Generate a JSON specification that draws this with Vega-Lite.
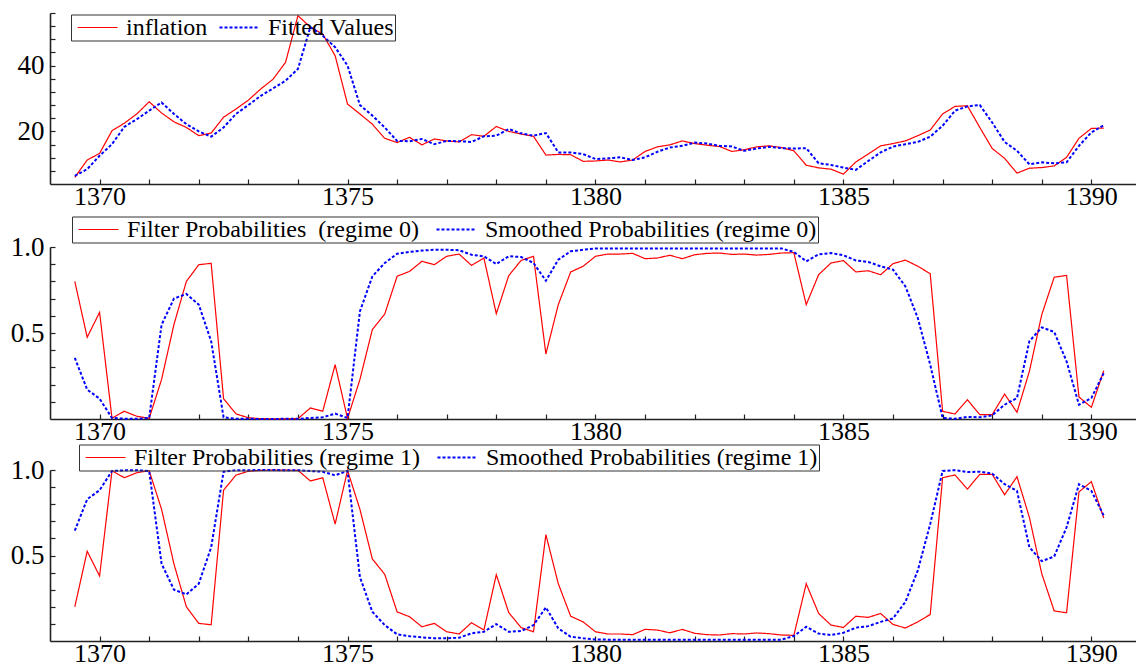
{
"$schema": "https://vega.github.io/schema/vega-lite/v6.json",
"autosize": "none",
"padding": {"left": 50, "top": 13, "right": 1086, "bottom": 655},
"background": "white",
"config": {
  "view": {"stroke": null},
  "font": "Liberation Serif, Times New Roman, DejaVu Serif, serif",
  "axis": {"domainColor": "#222", "domainWidth": 1.6, "tickColor": "#222", "tickWidth": 1.2, "tickSize": -5, "labelFont": "Liberation Serif, Times New Roman, DejaVu Serif, serif", "labelFontSize": 27, "labelColor": "#000", "grid": false, "title": null, "labelOverlap": false, "labelBound": false, "labelFlush": false},
  "axisX": {"labelPadding": 4, "labelDx": 9, "labelFontSize": 26},
  "axisY": {"labelPadding": 11},
  "legend": {"orient": "none", "direction": "horizontal", "title": null, "strokeColor": "#333", "padding": 1, "symbolType": "M-2,0H2", "symbolSize": 400, "symbolStrokeWidth": 2, "labelFont": "Liberation Serif, Times New Roman, DejaVu Serif, serif", "labelFontSize": 24, "labelColor": "#000", "labelLimit": 500, "symbolOffset": 13.5, "labelOffset": 16.5, "columnPadding": 12}
},
"datasets": {
"p1": [
{"t":1369.5,"s":"inflation","v":6.0},{"t":1369.75,"s":"inflation","v":11.3},{"t":1370,"s":"inflation","v":13.3},{"t":1370.25,"s":"inflation","v":20.2},{"t":1370.5,"s":"inflation","v":22.5},{"t":1370.75,"s":"inflation","v":25.3},{"t":1371,"s":"inflation","v":29.0},{"t":1371.25,"s":"inflation","v":25.6},{"t":1371.5,"s":"inflation","v":22.9},{"t":1371.75,"s":"inflation","v":21.2},{"t":1372,"s":"inflation","v":18.7},{"t":1372.25,"s":"inflation","v":19.5},{"t":1372.5,"s":"inflation","v":24.3},{"t":1372.75,"s":"inflation","v":26.8},{"t":1373,"s":"inflation","v":29.5},{"t":1373.25,"s":"inflation","v":32.9},{"t":1373.5,"s":"inflation","v":35.9},{"t":1373.75,"s":"inflation","v":41.0},{"t":1374,"s":"inflation","v":55.2},{"t":1374.25,"s":"inflation","v":51.7},{"t":1374.5,"s":"inflation","v":49.6},{"t":1374.75,"s":"inflation","v":43.0},{"t":1375,"s":"inflation","v":28.3},{"t":1375.25,"s":"inflation","v":25.3},{"t":1375.5,"s":"inflation","v":22.2},{"t":1375.75,"s":"inflation","v":17.9},{"t":1376,"s":"inflation","v":16.6},{"t":1376.25,"s":"inflation","v":18.2},{"t":1376.5,"s":"inflation","v":15.9},{"t":1376.75,"s":"inflation","v":17.7},{"t":1377,"s":"inflation","v":17.1},{"t":1377.25,"s":"inflation","v":16.8},{"t":1377.5,"s":"inflation","v":19.0},{"t":1377.75,"s":"inflation","v":18.5},{"t":1378,"s":"inflation","v":21.5},{"t":1378.25,"s":"inflation","v":20.0},{"t":1378.5,"s":"inflation","v":19.2},{"t":1378.75,"s":"inflation","v":18.5},{"t":1379,"s":"inflation","v":12.8},{"t":1379.25,"s":"inflation","v":13.0},{"t":1379.5,"s":"inflation","v":12.9},{"t":1379.75,"s":"inflation","v":10.9},{"t":1380,"s":"inflation","v":11.0},{"t":1380.25,"s":"inflation","v":11.3},{"t":1380.5,"s":"inflation","v":10.7},{"t":1380.75,"s":"inflation","v":11.3},{"t":1381,"s":"inflation","v":13.9},{"t":1381.25,"s":"inflation","v":15.3},{"t":1381.5,"s":"inflation","v":15.9},{"t":1381.75,"s":"inflation","v":17.1},{"t":1382,"s":"inflation","v":16.3},{"t":1382.25,"s":"inflation","v":15.8},{"t":1382.5,"s":"inflation","v":15.4},{"t":1382.75,"s":"inflation","v":13.9},{"t":1383,"s":"inflation","v":14.4},{"t":1383.25,"s":"inflation","v":15.3},{"t":1383.5,"s":"inflation","v":15.6},{"t":1383.75,"s":"inflation","v":15.1},{"t":1384,"s":"inflation","v":14.1},{"t":1384.25,"s":"inflation","v":9.7},{"t":1384.5,"s":"inflation","v":8.9},{"t":1384.75,"s":"inflation","v":8.5},{"t":1385,"s":"inflation","v":7.0},{"t":1385.25,"s":"inflation","v":10.7},{"t":1385.5,"s":"inflation","v":13.1},{"t":1385.75,"s":"inflation","v":15.6},{"t":1386,"s":"inflation","v":16.3},{"t":1386.25,"s":"inflation","v":17.1},{"t":1386.5,"s":"inflation","v":18.7},{"t":1386.75,"s":"inflation","v":20.4},{"t":1387,"s":"inflation","v":25.3},{"t":1387.25,"s":"inflation","v":27.6},{"t":1387.5,"s":"inflation","v":27.8},{"t":1387.75,"s":"inflation","v":21.2},{"t":1388,"s":"inflation","v":14.8},{"t":1388.25,"s":"inflation","v":11.8},{"t":1388.5,"s":"inflation","v":7.3},{"t":1388.75,"s":"inflation","v":8.8},{"t":1389,"s":"inflation","v":9.0},{"t":1389.25,"s":"inflation","v":9.5},{"t":1389.5,"s":"inflation","v":12.1},{"t":1389.75,"s":"inflation","v":17.9},{"t":1390,"s":"inflation","v":20.9},{"t":1390.25,"s":"inflation","v":21.0},
{"t":1369.5,"s":"Fitted Values","v":6.5},{"t":1369.75,"s":"Fitted Values","v":8.5},{"t":1370,"s":"Fitted Values","v":12.6},{"t":1370.25,"s":"Fitted Values","v":16.1},{"t":1370.5,"s":"Fitted Values","v":21.4},{"t":1370.75,"s":"Fitted Values","v":23.7},{"t":1371,"s":"Fitted Values","v":26.3},{"t":1371.25,"s":"Fitted Values","v":28.8},{"t":1371.5,"s":"Fitted Values","v":25.3},{"t":1371.75,"s":"Fitted Values","v":22.2},{"t":1372,"s":"Fitted Values","v":20.0},{"t":1372.25,"s":"Fitted Values","v":18.4},{"t":1372.5,"s":"Fitted Values","v":21.2},{"t":1372.75,"s":"Fitted Values","v":25.3},{"t":1373,"s":"Fitted Values","v":28.0},{"t":1373.25,"s":"Fitted Values","v":30.8},{"t":1373.5,"s":"Fitted Values","v":33.1},{"t":1373.75,"s":"Fitted Values","v":35.4},{"t":1374,"s":"Fitted Values","v":39.0},{"t":1374.25,"s":"Fitted Values","v":51.7},{"t":1374.5,"s":"Fitted Values","v":49.1},{"t":1374.75,"s":"Fitted Values","v":45.6},{"t":1375,"s":"Fitted Values","v":40.0},{"t":1375.25,"s":"Fitted Values","v":28.0},{"t":1375.5,"s":"Fitted Values","v":24.8},{"t":1375.75,"s":"Fitted Values","v":21.2},{"t":1376,"s":"Fitted Values","v":17.1},{"t":1376.25,"s":"Fitted Values","v":17.0},{"t":1376.5,"s":"Fitted Values","v":17.7},{"t":1376.75,"s":"Fitted Values","v":16.1},{"t":1377,"s":"Fitted Values","v":17.1},{"t":1377.25,"s":"Fitted Values","v":17.0},{"t":1377.5,"s":"Fitted Values","v":16.8},{"t":1377.75,"s":"Fitted Values","v":18.5},{"t":1378,"s":"Fitted Values","v":18.7},{"t":1378.25,"s":"Fitted Values","v":20.7},{"t":1378.5,"s":"Fitted Values","v":19.4},{"t":1378.75,"s":"Fitted Values","v":18.7},{"t":1379,"s":"Fitted Values","v":19.5},{"t":1379.25,"s":"Fitted Values","v":13.6},{"t":1379.5,"s":"Fitted Values","v":13.6},{"t":1379.75,"s":"Fitted Values","v":13.1},{"t":1380,"s":"Fitted Values","v":11.6},{"t":1380.25,"s":"Fitted Values","v":11.8},{"t":1380.5,"s":"Fitted Values","v":12.1},{"t":1380.75,"s":"Fitted Values","v":11.3},{"t":1381,"s":"Fitted Values","v":12.1},{"t":1381.25,"s":"Fitted Values","v":13.8},{"t":1381.5,"s":"Fitted Values","v":15.1},{"t":1381.75,"s":"Fitted Values","v":15.6},{"t":1382,"s":"Fitted Values","v":16.6},{"t":1382.25,"s":"Fitted Values","v":16.3},{"t":1382.5,"s":"Fitted Values","v":15.6},{"t":1382.75,"s":"Fitted Values","v":15.4},{"t":1383,"s":"Fitted Values","v":14.1},{"t":1383.25,"s":"Fitted Values","v":14.8},{"t":1383.5,"s":"Fitted Values","v":15.3},{"t":1383.75,"s":"Fitted Values","v":14.9},{"t":1384,"s":"Fitted Values","v":14.8},{"t":1384.25,"s":"Fitted Values","v":14.9},{"t":1384.5,"s":"Fitted Values","v":10.3},{"t":1384.75,"s":"Fitted Values","v":9.8},{"t":1385,"s":"Fitted Values","v":9.0},{"t":1385.25,"s":"Fitted Values","v":8.3},{"t":1385.5,"s":"Fitted Values","v":11.0},{"t":1385.75,"s":"Fitted Values","v":13.6},{"t":1386,"s":"Fitted Values","v":15.4},{"t":1386.25,"s":"Fitted Values","v":16.1},{"t":1386.5,"s":"Fitted Values","v":16.8},{"t":1386.75,"s":"Fitted Values","v":18.4},{"t":1387,"s":"Fitted Values","v":21.7},{"t":1387.25,"s":"Fitted Values","v":26.3},{"t":1387.5,"s":"Fitted Values","v":27.6},{"t":1387.75,"s":"Fitted Values","v":28.0},{"t":1388,"s":"Fitted Values","v":22.7},{"t":1388.25,"s":"Fitted Values","v":16.8},{"t":1388.5,"s":"Fitted Values","v":14.1},{"t":1388.75,"s":"Fitted Values","v":10.0},{"t":1389,"s":"Fitted Values","v":10.6},{"t":1389.25,"s":"Fitted Values","v":10.3},{"t":1389.5,"s":"Fitted Values","v":10.6},{"t":1389.75,"s":"Fitted Values","v":15.6},{"t":1390,"s":"Fitted Values","v":19.7},{"t":1390.25,"s":"Fitted Values","v":21.9}
],
"p2": [
{"t":1369.5,"s":"F0","v":0.80},{"t":1369.75,"s":"F0","v":0.475},{"t":1370,"s":"F0","v":0.62},{"t":1370.25,"s":"F0","v":0.005},{"t":1370.5,"s":"F0","v":0.045},{"t":1370.75,"s":"F0","v":0.016},{"t":1371,"s":"F0","v":0.004},{"t":1371.25,"s":"F0","v":0.23},{"t":1371.5,"s":"F0","v":0.55},{"t":1371.75,"s":"F0","v":0.80},{"t":1372,"s":"F0","v":0.897},{"t":1372.25,"s":"F0","v":0.905},{"t":1372.5,"s":"F0","v":0.118},{"t":1372.75,"s":"F0","v":0.03},{"t":1373,"s":"F0","v":0.007},{"t":1373.25,"s":"F0","v":0.002},{"t":1373.5,"s":"F0","v":0.001},{"t":1373.75,"s":"F0","v":0.001},{"t":1374,"s":"F0","v":0.002},{"t":1374.25,"s":"F0","v":0.064},{"t":1374.5,"s":"F0","v":0.045},{"t":1374.75,"s":"F0","v":0.316},{"t":1375,"s":"F0","v":0.003},{"t":1375.25,"s":"F0","v":0.23},{"t":1375.5,"s":"F0","v":0.52},{"t":1375.75,"s":"F0","v":0.61},{"t":1376,"s":"F0","v":0.83},{"t":1376.25,"s":"F0","v":0.858},{"t":1376.5,"s":"F0","v":0.917},{"t":1376.75,"s":"F0","v":0.897},{"t":1377,"s":"F0","v":0.946},{"t":1377.25,"s":"F0","v":0.959},{"t":1377.5,"s":"F0","v":0.893},{"t":1377.75,"s":"F0","v":0.936},{"t":1378,"s":"F0","v":0.612},{"t":1378.25,"s":"F0","v":0.833},{"t":1378.5,"s":"F0","v":0.922},{"t":1378.75,"s":"F0","v":0.946},{"t":1379,"s":"F0","v":0.378},{"t":1379.25,"s":"F0","v":0.665},{"t":1379.5,"s":"F0","v":0.855},{"t":1379.75,"s":"F0","v":0.888},{"t":1380,"s":"F0","v":0.946},{"t":1380.25,"s":"F0","v":0.959},{"t":1380.5,"s":"F0","v":0.959},{"t":1380.75,"s":"F0","v":0.963},{"t":1381,"s":"F0","v":0.932},{"t":1381.25,"s":"F0","v":0.936},{"t":1381.5,"s":"F0","v":0.952},{"t":1381.75,"s":"F0","v":0.932},{"t":1382,"s":"F0","v":0.955},{"t":1382.25,"s":"F0","v":0.963},{"t":1382.5,"s":"F0","v":0.965},{"t":1382.75,"s":"F0","v":0.957},{"t":1383,"s":"F0","v":0.959},{"t":1383.25,"s":"F0","v":0.953},{"t":1383.5,"s":"F0","v":0.957},{"t":1383.75,"s":"F0","v":0.965},{"t":1384,"s":"F0","v":0.967},{"t":1384.25,"s":"F0","v":0.665},{"t":1384.5,"s":"F0","v":0.839},{"t":1384.75,"s":"F0","v":0.907},{"t":1385,"s":"F0","v":0.921},{"t":1385.25,"s":"F0","v":0.855},{"t":1385.5,"s":"F0","v":0.862},{"t":1385.75,"s":"F0","v":0.839},{"t":1386,"s":"F0","v":0.903},{"t":1386.25,"s":"F0","v":0.924},{"t":1386.5,"s":"F0","v":0.888},{"t":1386.75,"s":"F0","v":0.845},{"t":1387,"s":"F0","v":0.045},{"t":1387.25,"s":"F0","v":0.029},{"t":1387.5,"s":"F0","v":0.112},{"t":1387.75,"s":"F0","v":0.025},{"t":1388,"s":"F0","v":0.025},{"t":1388.25,"s":"F0","v":0.145},{"t":1388.5,"s":"F0","v":0.039},{"t":1388.75,"s":"F0","v":0.277},{"t":1389,"s":"F0","v":0.607},{"t":1389.25,"s":"F0","v":0.824},{"t":1389.5,"s":"F0","v":0.835},{"t":1389.75,"s":"F0","v":0.128},{"t":1390,"s":"F0","v":0.068},{"t":1390.25,"s":"F0","v":0.281},
{"t":1369.5,"s":"S0","v":0.355},{"t":1369.75,"s":"S0","v":0.171},{"t":1370,"s":"S0","v":0.118},{"t":1370.25,"s":"S0","v":0.006},{"t":1370.5,"s":"S0","v":0.002},{"t":1370.75,"s":"S0","v":0.001},{"t":1371,"s":"S0","v":0.006},{"t":1371.25,"s":"S0","v":0.548},{"t":1371.5,"s":"S0","v":0.70},{"t":1371.75,"s":"S0","v":0.727},{"t":1372,"s":"S0","v":0.665},{"t":1372.25,"s":"S0","v":0.452},{"t":1372.5,"s":"S0","v":0.01},{"t":1372.75,"s":"S0","v":0.001},{"t":1373,"s":"S0","v":0.001},{"t":1373.25,"s":"S0","v":0.0005},{"t":1373.5,"s":"S0","v":0.0005},{"t":1373.75,"s":"S0","v":0.001},{"t":1374,"s":"S0","v":0.001},{"t":1374.25,"s":"S0","v":0.006},{"t":1374.5,"s":"S0","v":0.01},{"t":1374.75,"s":"S0","v":0.031},{"t":1375,"s":"S0","v":0.006},{"t":1375.25,"s":"S0","v":0.626},{"t":1375.5,"s":"S0","v":0.829},{"t":1375.75,"s":"S0","v":0.907},{"t":1376,"s":"S0","v":0.961},{"t":1376.25,"s":"S0","v":0.972},{"t":1376.5,"s":"S0","v":0.979},{"t":1376.75,"s":"S0","v":0.984},{"t":1377,"s":"S0","v":0.984},{"t":1377.25,"s":"S0","v":0.981},{"t":1377.5,"s":"S0","v":0.955},{"t":1377.75,"s":"S0","v":0.946},{"t":1378,"s":"S0","v":0.901},{"t":1378.25,"s":"S0","v":0.946},{"t":1378.5,"s":"S0","v":0.942},{"t":1378.75,"s":"S0","v":0.907},{"t":1379,"s":"S0","v":0.804},{"t":1379.25,"s":"S0","v":0.926},{"t":1379.5,"s":"S0","v":0.975},{"t":1379.75,"s":"S0","v":0.984},{"t":1380,"s":"S0","v":0.991},{"t":1380.25,"s":"S0","v":0.992},{"t":1380.5,"s":"S0","v":0.992},{"t":1380.75,"s":"S0","v":0.992},{"t":1381,"s":"S0","v":0.992},{"t":1381.25,"s":"S0","v":0.992},{"t":1381.5,"s":"S0","v":0.992},{"t":1381.75,"s":"S0","v":0.992},{"t":1382,"s":"S0","v":0.992},{"t":1382.25,"s":"S0","v":0.992},{"t":1382.5,"s":"S0","v":0.992},{"t":1382.75,"s":"S0","v":0.992},{"t":1383,"s":"S0","v":0.992},{"t":1383.25,"s":"S0","v":0.992},{"t":1383.5,"s":"S0","v":0.992},{"t":1383.75,"s":"S0","v":0.992},{"t":1384,"s":"S0","v":0.971},{"t":1384.25,"s":"S0","v":0.917},{"t":1384.5,"s":"S0","v":0.957},{"t":1384.75,"s":"S0","v":0.965},{"t":1385,"s":"S0","v":0.952},{"t":1385.25,"s":"S0","v":0.922},{"t":1385.5,"s":"S0","v":0.913},{"t":1385.75,"s":"S0","v":0.888},{"t":1386,"s":"S0","v":0.868},{"t":1386.25,"s":"S0","v":0.771},{"t":1386.5,"s":"S0","v":0.587},{"t":1386.75,"s":"S0","v":0.316},{"t":1387,"s":"S0","v":0.006},{"t":1387.25,"s":"S0","v":0.001},{"t":1387.5,"s":"S0","v":0.012},{"t":1387.75,"s":"S0","v":0.01},{"t":1388,"s":"S0","v":0.021},{"t":1388.25,"s":"S0","v":0.083},{"t":1388.5,"s":"S0","v":0.122},{"t":1388.75,"s":"S0","v":0.452},{"t":1389,"s":"S0","v":0.533},{"t":1389.25,"s":"S0","v":0.506},{"t":1389.5,"s":"S0","v":0.335},{"t":1389.75,"s":"S0","v":0.083},{"t":1390,"s":"S0","v":0.122},{"t":1390.25,"s":"S0","v":0.267}
],
"p3": [
{"t":1369.5,"s":"F1","v":0.20},{"t":1369.75,"s":"F1","v":0.525},{"t":1370,"s":"F1","v":0.38},{"t":1370.25,"s":"F1","v":0.995},{"t":1370.5,"s":"F1","v":0.955},{"t":1370.75,"s":"F1","v":0.984},{"t":1371,"s":"F1","v":0.996},{"t":1371.25,"s":"F1","v":0.77},{"t":1371.5,"s":"F1","v":0.45},{"t":1371.75,"s":"F1","v":0.20},{"t":1372,"s":"F1","v":0.103},{"t":1372.25,"s":"F1","v":0.095},{"t":1372.5,"s":"F1","v":0.882},{"t":1372.75,"s":"F1","v":0.97},{"t":1373,"s":"F1","v":0.993},{"t":1373.25,"s":"F1","v":0.998},{"t":1373.5,"s":"F1","v":0.999},{"t":1373.75,"s":"F1","v":0.999},{"t":1374,"s":"F1","v":0.998},{"t":1374.25,"s":"F1","v":0.936},{"t":1374.5,"s":"F1","v":0.955},{"t":1374.75,"s":"F1","v":0.684},{"t":1375,"s":"F1","v":0.997},{"t":1375.25,"s":"F1","v":0.77},{"t":1375.5,"s":"F1","v":0.48},{"t":1375.75,"s":"F1","v":0.39},{"t":1376,"s":"F1","v":0.17},{"t":1376.25,"s":"F1","v":0.142},{"t":1376.5,"s":"F1","v":0.083},{"t":1376.75,"s":"F1","v":0.103},{"t":1377,"s":"F1","v":0.054},{"t":1377.25,"s":"F1","v":0.041},{"t":1377.5,"s":"F1","v":0.107},{"t":1377.75,"s":"F1","v":0.064},{"t":1378,"s":"F1","v":0.388},{"t":1378.25,"s":"F1","v":0.167},{"t":1378.5,"s":"F1","v":0.078},{"t":1378.75,"s":"F1","v":0.054},{"t":1379,"s":"F1","v":0.622},{"t":1379.25,"s":"F1","v":0.335},{"t":1379.5,"s":"F1","v":0.145},{"t":1379.75,"s":"F1","v":0.112},{"t":1380,"s":"F1","v":0.054},{"t":1380.25,"s":"F1","v":0.041},{"t":1380.5,"s":"F1","v":0.041},{"t":1380.75,"s":"F1","v":0.037},{"t":1381,"s":"F1","v":0.068},{"t":1381.25,"s":"F1","v":0.064},{"t":1381.5,"s":"F1","v":0.048},{"t":1381.75,"s":"F1","v":0.068},{"t":1382,"s":"F1","v":0.045},{"t":1382.25,"s":"F1","v":0.037},{"t":1382.5,"s":"F1","v":0.035},{"t":1382.75,"s":"F1","v":0.043},{"t":1383,"s":"F1","v":0.041},{"t":1383.25,"s":"F1","v":0.047},{"t":1383.5,"s":"F1","v":0.043},{"t":1383.75,"s":"F1","v":0.035},{"t":1384,"s":"F1","v":0.033},{"t":1384.25,"s":"F1","v":0.335},{"t":1384.5,"s":"F1","v":0.161},{"t":1384.75,"s":"F1","v":0.093},{"t":1385,"s":"F1","v":0.079},{"t":1385.25,"s":"F1","v":0.145},{"t":1385.5,"s":"F1","v":0.138},{"t":1385.75,"s":"F1","v":0.161},{"t":1386,"s":"F1","v":0.097},{"t":1386.25,"s":"F1","v":0.076},{"t":1386.5,"s":"F1","v":0.112},{"t":1386.75,"s":"F1","v":0.155},{"t":1387,"s":"F1","v":0.955},{"t":1387.25,"s":"F1","v":0.971},{"t":1387.5,"s":"F1","v":0.888},{"t":1387.75,"s":"F1","v":0.975},{"t":1388,"s":"F1","v":0.975},{"t":1388.25,"s":"F1","v":0.855},{"t":1388.5,"s":"F1","v":0.961},{"t":1388.75,"s":"F1","v":0.723},{"t":1389,"s":"F1","v":0.393},{"t":1389.25,"s":"F1","v":0.176},{"t":1389.5,"s":"F1","v":0.165},{"t":1389.75,"s":"F1","v":0.872},{"t":1390,"s":"F1","v":0.932},{"t":1390.25,"s":"F1","v":0.719},
{"t":1369.5,"s":"S1","v":0.645},{"t":1369.75,"s":"S1","v":0.829},{"t":1370,"s":"S1","v":0.882},{"t":1370.25,"s":"S1","v":0.994},{"t":1370.5,"s":"S1","v":0.998},{"t":1370.75,"s":"S1","v":0.999},{"t":1371,"s":"S1","v":0.994},{"t":1371.25,"s":"S1","v":0.452},{"t":1371.5,"s":"S1","v":0.30},{"t":1371.75,"s":"S1","v":0.273},{"t":1372,"s":"S1","v":0.335},{"t":1372.25,"s":"S1","v":0.548},{"t":1372.5,"s":"S1","v":0.99},{"t":1372.75,"s":"S1","v":0.999},{"t":1373,"s":"S1","v":0.999},{"t":1373.25,"s":"S1","v":0.9995},{"t":1373.5,"s":"S1","v":0.9995},{"t":1373.75,"s":"S1","v":0.999},{"t":1374,"s":"S1","v":0.999},{"t":1374.25,"s":"S1","v":0.994},{"t":1374.5,"s":"S1","v":0.99},{"t":1374.75,"s":"S1","v":0.969},{"t":1375,"s":"S1","v":0.994},{"t":1375.25,"s":"S1","v":0.374},{"t":1375.5,"s":"S1","v":0.171},{"t":1375.75,"s":"S1","v":0.093},{"t":1376,"s":"S1","v":0.039},{"t":1376.25,"s":"S1","v":0.028},{"t":1376.5,"s":"S1","v":0.021},{"t":1376.75,"s":"S1","v":0.016},{"t":1377,"s":"S1","v":0.016},{"t":1377.25,"s":"S1","v":0.019},{"t":1377.5,"s":"S1","v":0.045},{"t":1377.75,"s":"S1","v":0.054},{"t":1378,"s":"S1","v":0.099},{"t":1378.25,"s":"S1","v":0.054},{"t":1378.5,"s":"S1","v":0.058},{"t":1378.75,"s":"S1","v":0.093},{"t":1379,"s":"S1","v":0.196},{"t":1379.25,"s":"S1","v":0.074},{"t":1379.5,"s":"S1","v":0.025},{"t":1379.75,"s":"S1","v":0.016},{"t":1380,"s":"S1","v":0.009},{"t":1380.25,"s":"S1","v":0.008},{"t":1380.5,"s":"S1","v":0.008},{"t":1380.75,"s":"S1","v":0.008},{"t":1381,"s":"S1","v":0.008},{"t":1381.25,"s":"S1","v":0.008},{"t":1381.5,"s":"S1","v":0.008},{"t":1381.75,"s":"S1","v":0.008},{"t":1382,"s":"S1","v":0.008},{"t":1382.25,"s":"S1","v":0.008},{"t":1382.5,"s":"S1","v":0.008},{"t":1382.75,"s":"S1","v":0.008},{"t":1383,"s":"S1","v":0.008},{"t":1383.25,"s":"S1","v":0.008},{"t":1383.5,"s":"S1","v":0.008},{"t":1383.75,"s":"S1","v":0.008},{"t":1384,"s":"S1","v":0.029},{"t":1384.25,"s":"S1","v":0.083},{"t":1384.5,"s":"S1","v":0.043},{"t":1384.75,"s":"S1","v":0.035},{"t":1385,"s":"S1","v":0.048},{"t":1385.25,"s":"S1","v":0.078},{"t":1385.5,"s":"S1","v":0.087},{"t":1385.75,"s":"S1","v":0.112},{"t":1386,"s":"S1","v":0.132},{"t":1386.25,"s":"S1","v":0.229},{"t":1386.5,"s":"S1","v":0.413},{"t":1386.75,"s":"S1","v":0.684},{"t":1387,"s":"S1","v":0.994},{"t":1387.25,"s":"S1","v":0.999},{"t":1387.5,"s":"S1","v":0.988},{"t":1387.75,"s":"S1","v":0.99},{"t":1388,"s":"S1","v":0.979},{"t":1388.25,"s":"S1","v":0.917},{"t":1388.5,"s":"S1","v":0.878},{"t":1388.75,"s":"S1","v":0.548},{"t":1389,"s":"S1","v":0.467},{"t":1389.25,"s":"S1","v":0.494},{"t":1389.5,"s":"S1","v":0.665},{"t":1389.75,"s":"S1","v":0.917},{"t":1390,"s":"S1","v":0.878},{"t":1390.25,"s":"S1","v":0.733}
]
},
"spacing": 63,
"bounds": "flush",
"resolve": {"scale": {"x": "independent", "y": "independent", "color": "independent", "strokeDash": "independent", "strokeWidth": "independent"}, "legend": {"color": "independent"}},
"vconcat": [
{
  "width": 1086, "height": 171,
  "data": {"name": "p1"},
  "mark": {"type": "line", "clip": false},
  "encoding": {
    "x": {"field": "t", "type": "quantitative", "scale": {"domain": [1369, 1390.9], "nice": false, "zero": false}, "axis": {"values": [1370,1371,1372,1373,1374,1375,1376,1377,1378,1379,1380,1381,1382,1383,1384,1385,1386,1387,1388,1389,1390], "labelExpr": "datum.value % 5 == 0 ? format(datum.value, 'd') : ''"}},
    "y": {"field": "v", "type": "quantitative", "scale": {"domain": [4, 56], "nice": false, "zero": false}, "axis": {"values": [8,12,16,20,24,28,32,36,40,44,48,52,56], "labelExpr": "datum.value == 20 || datum.value == 40 ? format(datum.value, 'd') : ''"}},
    "color": {"field": "s", "type": "nominal", "scale": {"domain": ["inflation", "Fitted Values"], "range": ["#ff0000", "#0000ff"]}, "legend": {"legendX": 21, "legendY": 1.5, "columnPadding": 6, "encode": {"symbols": {"update": {"stroke": [{"test": "datum.index === 0", "value": "#ff0000"}, {"value": "#0000ff"}], "strokeDash": [{"test": "datum.index === 0", "value": [1, 0]}, {"value": [3, 2]}]}}}}},
    "strokeDash": {"field": "s", "type": "nominal", "scale": {"domain": ["inflation", "Fitted Values"], "range": [[1, 0], [3, 2]]}, "legend": null},
    "strokeWidth": {"field": "s", "type": "ordinal", "scale": {"domain": ["inflation", "Fitted Values"], "range": [1.2, 2]}, "legend": null}
  }
},
{
  "spacing": 51,
  "bounds": "flush",
  "resolve": {"scale": {"x": "independent", "y": "independent", "color": "independent", "strokeDash": "independent", "strokeWidth": "independent"}, "legend": {"color": "independent"}},
  "vconcat": [
  {
    "width": 1086, "height": 172,
    "data": {"name": "p2"},
    "transform": [{"lookup": "s", "from": {"data": {"values": [{"k": "F0", "n": "Filter Probabilities\u00a0 (regime 0)"}, {"k": "S0", "n": "Smoothed Probabilities (regime 0)"}]}, "key": "k", "fields": ["n"]}}],
    "mark": {"type": "line", "clip": false},
    "encoding": {
      "x": {"field": "t", "type": "quantitative", "scale": {"domain": [1369, 1390.9], "nice": false, "zero": false}, "axis": {"values": [1370,1371,1372,1373,1374,1375,1376,1377,1378,1379,1380,1381,1382,1383,1384,1385,1386,1387,1388,1389,1390], "labelExpr": "datum.value % 5 == 0 ? format(datum.value, 'd') : ''"}},
      "y": {"field": "v", "type": "quantitative", "scale": {"domain": [0, 1], "nice": false, "zero": false}, "axis": {"values": [0.1,0.2,0.3,0.4,0.5,0.6,0.7,0.8,0.9,1.0], "labelExpr": "datum.value == 0.5 || datum.value == 1 ? format(datum.value, '.1f') : ''"}},
      "color": {"field": "n", "type": "nominal", "scale": {"domain": ["Filter Probabilities\u00a0 (regime 0)", "Smoothed Probabilities (regime 0)"], "range": ["#ff0000", "#0000ff"]}, "legend": {"legendX": 22, "legendY": -30.5, "encode": {"symbols": {"update": {"stroke": [{"test": "datum.index === 0", "value": "#ff0000"}, {"value": "#0000ff"}], "strokeDash": [{"test": "datum.index === 0", "value": [1, 0]}, {"value": [3, 2]}]}}}}},
      "strokeDash": {"field": "n", "type": "nominal", "scale": {"domain": ["Filter Probabilities\u00a0 (regime 0)", "Smoothed Probabilities (regime 0)"], "range": [[1, 0], [3, 2]]}, "legend": null},
      "strokeWidth": {"field": "n", "type": "ordinal", "scale": {"domain": ["Filter Probabilities\u00a0 (regime 0)", "Smoothed Probabilities (regime 0)"], "range": [1.2, 2]}, "legend": null}
    }
  },
  {
    "width": 1086, "height": 171,
    "data": {"name": "p3"},
    "transform": [{"lookup": "s", "from": {"data": {"values": [{"k": "F1", "n": "Filter Probabilities (regime 1)"}, {"k": "S1", "n": "Smoothed Probabilities (regime 1)"}]}, "key": "k", "fields": ["n"]}}],
    "mark": {"type": "line", "clip": false},
    "encoding": {
      "x": {"field": "t", "type": "quantitative", "scale": {"domain": [1369, 1390.9], "nice": false, "zero": false}, "axis": {"values": [1370,1371,1372,1373,1374,1375,1376,1377,1378,1379,1380,1381,1382,1383,1384,1385,1386,1387,1388,1389,1390], "labelExpr": "datum.value % 5 == 0 ? format(datum.value, 'd') : ''"}},
      "y": {"field": "v", "type": "quantitative", "scale": {"domain": [0, 1], "nice": false, "zero": false}, "axis": {"values": [0.1,0.2,0.3,0.4,0.5,0.6,0.7,0.8,0.9,1.0], "labelExpr": "datum.value == 0.5 || datum.value == 1 ? format(datum.value, '.1f') : ''"}},
      "color": {"field": "n", "type": "nominal", "scale": {"domain": ["Filter Probabilities (regime 1)", "Smoothed Probabilities (regime 1)"], "range": ["#ff0000", "#0000ff"]}, "legend": {"legendX": 29, "legendY": -25.5, "encode": {"symbols": {"update": {"stroke": [{"test": "datum.index === 0", "value": "#ff0000"}, {"value": "#0000ff"}], "strokeDash": [{"test": "datum.index === 0", "value": [1, 0]}, {"value": [3, 2]}]}}}}},
      "strokeDash": {"field": "n", "type": "nominal", "scale": {"domain": ["Filter Probabilities (regime 1)", "Smoothed Probabilities (regime 1)"], "range": [[1, 0], [3, 2]]}, "legend": null},
      "strokeWidth": {"field": "n", "type": "ordinal", "scale": {"domain": ["Filter Probabilities (regime 1)", "Smoothed Probabilities (regime 1)"], "range": [1.2, 2]}, "legend": null}
    }
  }
  ]
}
]
}
